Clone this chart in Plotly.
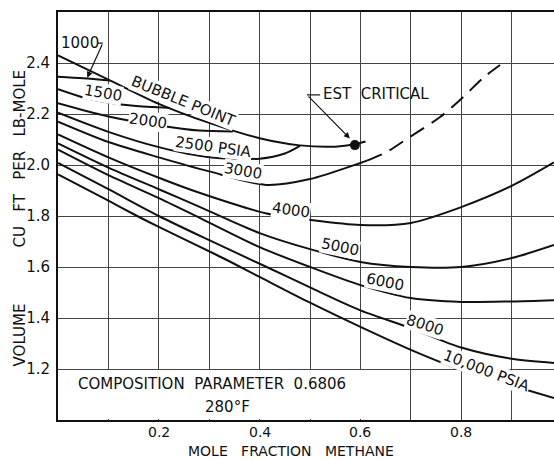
import plotly.graph_objects as go

# ---------------- data ----------------
bubble_x = [0.0, 0.1, 0.2, 0.3, 0.4, 0.48, 0.55, 0.587, 0.61]
bubble_y = [2.43, 2.335, 2.24, 2.165, 2.105, 2.077, 2.072, 2.08, 2.092]

p1000_x = [0.0, 0.05, 0.103]
p1000_y = [2.346, 2.34, 2.331]

p1500_x = [0.0, 0.05, 0.1, 0.15, 0.222]
p1500_y = [2.297, 2.265, 2.245, 2.232, 2.224]

p2000_x = [0.0, 0.1, 0.2, 0.28, 0.347]
p2000_y = [2.242, 2.19, 2.155, 2.135, 2.131]

p2500_x = [0.0, 0.1, 0.2, 0.3, 0.4, 0.45, 0.48]
p2500_y = [2.205, 2.13, 2.07, 2.03, 2.025, 2.045, 2.075]

p3000_x = [0.0, 0.1, 0.2, 0.3, 0.414, 0.5, 0.6, 0.613]
p3000_y = [2.17, 2.09, 2.03, 1.975, 1.922, 1.945, 2.008, 2.017]

dew_x = [0.613, 0.652, 0.698, 0.758, 0.804, 0.843, 0.877]
dew_y = [2.017, 2.051, 2.11, 2.188, 2.267, 2.341, 2.392]

p4000_x = [0.0, 0.1, 0.2, 0.282, 0.414, 0.5, 0.6, 0.7, 0.8, 0.9, 0.984]
p4000_y = [2.12, 2.03, 1.95, 1.89, 1.81, 1.785, 1.765, 1.773, 1.835, 1.918, 2.01]

p5000_x = [0.0, 0.1, 0.2, 0.282, 0.4, 0.5, 0.6, 0.7, 0.8, 0.9, 0.984]
p5000_y = [2.085, 1.99, 1.905, 1.835, 1.733, 1.67, 1.62, 1.60, 1.60, 1.635, 1.686]

p6000_x = [0.0, 0.1, 0.2, 0.282, 0.4, 0.5, 0.6, 0.7, 0.8, 0.9, 0.984]
p6000_y = [2.06, 1.96, 1.87, 1.792, 1.678, 1.60, 1.529, 1.478, 1.463, 1.465, 1.47]

p8000_x = [0.0, 0.1, 0.2, 0.3, 0.414, 0.5, 0.6, 0.7, 0.8, 0.9, 0.984]
p8000_y = [2.008, 1.905, 1.80, 1.705, 1.60, 1.52, 1.43, 1.36, 1.284, 1.24, 1.224]

p10000_x = [0.0, 0.1, 0.157, 0.2, 0.315, 0.4, 0.5, 0.6, 0.7, 0.8, 0.9, 0.984]
p10000_y = [1.963, 1.86, 1.80, 1.757, 1.647, 1.561, 1.46, 1.365, 1.275, 1.196, 1.135, 1.086]

critical_x = [0.589]
critical_y = [2.078]

label_text = ["BUBBLE POINT", "1500", "2000", "2500 PSIA", "3000", "4000",
              "5000", "6000", "8000", "10,000 PSIA"]
label_x = [0.248, 0.089, 0.179, 0.308, 0.367, 0.462, 0.56, 0.649, 0.728, 0.851]
label_y = [2.25, 2.282, 2.173, 2.071, 1.976, 1.824, 1.678, 1.541, 1.373, 1.192]
label_angle = [22, 10, 8, 8, 10, 8, 12, 12, 18, 21]

x_gridvals = [0.1, 0.2, 0.3, 0.4, 0.5, 0.6, 0.7, 0.8, 0.9]
x_labelvals = [0.2, 0.4, 0.6, 0.8]
x_labeltext = ["0.2", "0.4", "0.6", "0.8"]
y_tickvals = [1.2, 1.4, 1.6, 1.8, 2.0, 2.2, 2.4]
y_ticktext = ["1.2", "1.4", "1.6", "1.8", "2.0", "2.2", "2.4"]

FONT = "DejaVu Sans"
INK = "#111111"
FS = 15

fig = go.Figure()


def add_curve(x, y, dash="solid", width=2):
    fig.add_trace(go.Scatter(
        x=x, y=y, mode="lines",
        line=dict(color=INK, width=width, shape="spline", smoothing=0.8, dash=dash),
        hoverinfo="skip", showlegend=False))


for cx, cy in [(bubble_x, bubble_y), (p1000_x, p1000_y), (p1500_x, p1500_y),
               (p2000_x, p2000_y), (p2500_x, p2500_y), (p3000_x, p3000_y),
               (p4000_x, p4000_y), (p5000_x, p5000_y), (p6000_x, p6000_y),
               (p8000_x, p8000_y), (p10000_x, p10000_y)]:
    add_curve(cx, cy)
add_curve(dew_x, dew_y, dash="16px,9px")

fig.add_trace(go.Scatter(x=critical_x, y=critical_y, mode="markers",
                         marker=dict(color=INK, size=10),
                         hoverinfo="skip", showlegend=False))

annotations = []
for t, x, y, a in zip(label_text, label_x, label_y, label_angle):
    annotations.append(dict(x=x, y=y, xref="x", yref="y", text=t, showarrow=False,
                            textangle=a, bgcolor="white", borderpad=0,
                            font=dict(family=FONT, size=FS, color=INK)))

# x tick labels (placed close under the axis as in the reference)
for v, t in zip(x_labelvals, x_labeltext):
    annotations.append(dict(x=v, y=-0.0294, xref="x", yref="paper", text=t,
                            showarrow=False, xanchor="center", yanchor="middle",
                            borderpad=0, font=dict(family=FONT, size=14, color=INK)))

# 1000 label with leader
annotations.append(dict(x=0.044, y=2.478, xref="x", yref="y", text="1000", showarrow=False,
                        font=dict(family=FONT, size=FS, color=INK)))
annotations.append(dict(x=0.058, y=2.342, xref="x", yref="y", ax=0.089, ay=2.478,
                        axref="x", ayref="y", text="", showarrow=True,
                        arrowhead=2, arrowsize=1, arrowwidth=1.2, arrowcolor=INK))

# EST CRITICAL
annotations.append(dict(x=0.522, y=2.278, xref="x", yref="y", text="EST  CRITICAL",
                        showarrow=False, xanchor="left",
                        font=dict(family=FONT, size=FS, color=INK)))
annotations.append(dict(x=0.579, y=2.104, xref="x", yref="y", ax=0.494, ay=2.275,
                        axref="x", ayref="y", text="", showarrow=True,
                        arrowhead=2, arrowsize=1, arrowwidth=1.2, arrowcolor=INK))

# composition text
annotations.append(dict(x=0.306, y=1.141, xref="x", yref="y",
                        text="COMPOSITION  PARAMETER  0.6806", showarrow=False,
                        font=dict(family=FONT, size=FS, color=INK)))
annotations.append(dict(x=0.337, y=1.05, xref="x", yref="y",
                        text="280°F", showarrow=False,
                        font=dict(family=FONT, size=FS, color=INK)))

# axis titles
annotations.append(dict(x=0.462, y=-0.076, xref="x", yref="paper",
                        text="MOLE   FRACTION   METHANE", showarrow=False,
                        yanchor="middle", xanchor="center", borderpad=0,
                        font=dict(family=FONT, size=14, color=INK)))
annotations.append(dict(x=-0.077, y=2.025, xref="paper", yref="y",
                        text="CU   FT   PER   LB-MOLE", showarrow=False, textangle=-90,
                        xanchor="center", yanchor="middle",
                        font=dict(family=FONT, size=FS, color=INK)))
annotations.append(dict(x=-0.077, y=1.335, xref="paper", yref="y",
                        text="VOLUME", showarrow=False, textangle=-90,
                        xanchor="center", yanchor="middle",
                        font=dict(family=FONT, size=FS, color=INK)))

shapes = [
    # blank box behind the composition note
    dict(type="rect", xref="x", yref="y", x0=0.003, x1=0.695, y0=1.004, y1=1.196,
         fillcolor="white", line=dict(width=0), layer="between"),
    # horizontal stubs of leaders
    dict(type="line", xref="x", yref="y", x0=0.078, x1=0.089, y0=2.478, y1=2.478,
         line=dict(color=INK, width=1.2)),
    dict(type="line", xref="x", yref="y", x0=0.494, x1=0.52, y0=2.275, y1=2.275,
         line=dict(color=INK, width=1.2)),
]

fig.update_layout(
    width=554, height=459,
    margin=dict(l=58, r=0, t=12, b=39),
    paper_bgcolor="white", plot_bgcolor="white",
    showlegend=False,
    annotations=annotations,
    shapes=shapes,
    font=dict(family=FONT, size=FS, color=INK),
    xaxis=dict(range=[0, 0.984], tickvals=x_gridvals, showticklabels=False,
               showgrid=True, gridcolor="#444444", gridwidth=1,
               showline=True, linecolor=INK, linewidth=2, mirror=True,
               ticks="", zeroline=False),
    yaxis=dict(range=[1.0, 2.6], tickvals=y_tickvals, ticktext=y_ticktext,
               showgrid=True, gridcolor="#444444", gridwidth=1,
               showline=True, linecolor=INK, linewidth=2,
               ticks="", ticklabelstandoff=3, zeroline=False,
               tickfont=dict(family=FONT, size=FS, color=INK)),
)

fig.write_html("out.html", config={"displayModeBar": False})

# remove the default page margin so the figure sits at the window's corner
with open("out.html", "r", encoding="utf-8") as f:
    html = f.read()
html = html.replace("<body>", '<body style="margin:0;overflow:hidden">', 1)
with open("out.html", "w", encoding="utf-8") as f:
    f.write(html)
